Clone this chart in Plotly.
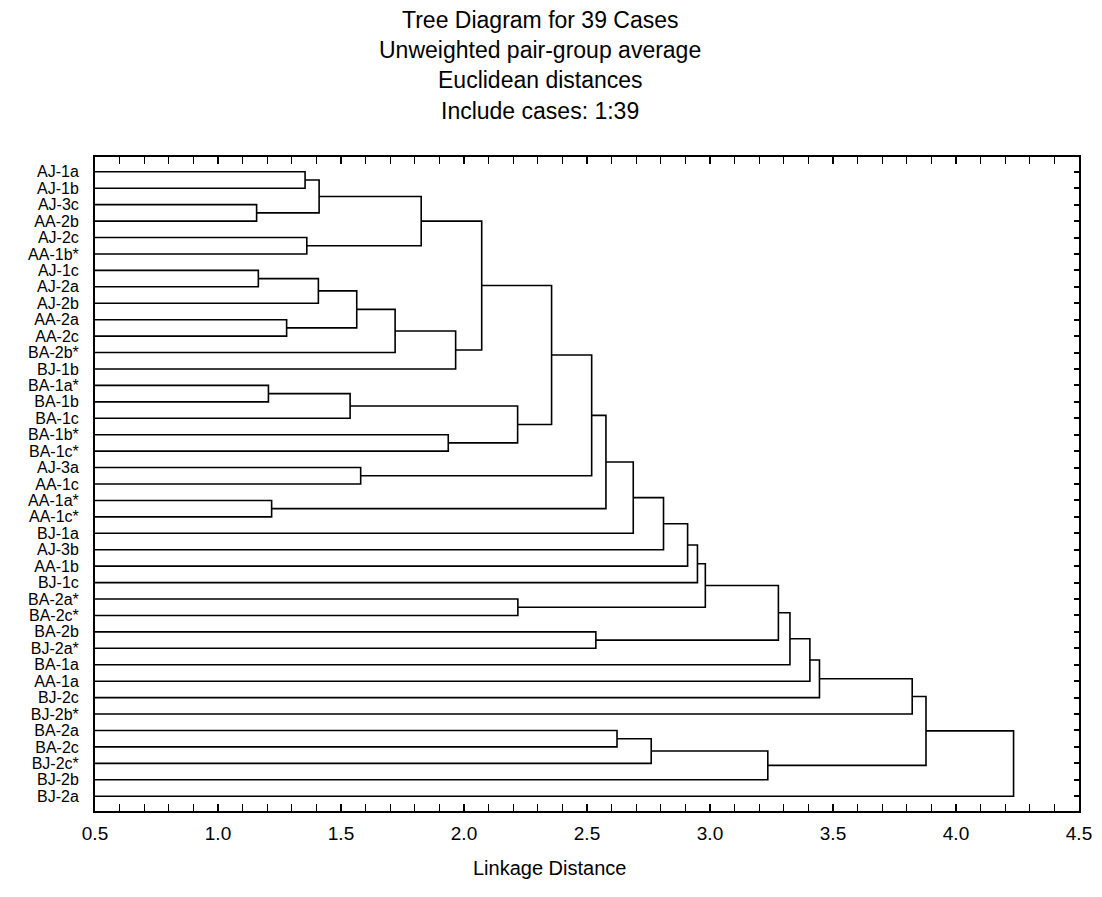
import plotly.graph_objects as go

# ---------------- DATA ----------------
leaf_labels = ["AJ-1a", "AJ-1b", "AJ-3c", "AA-2b", "AJ-2c", "AA-1b*", "AJ-1c", "AJ-2a",
               "AJ-2b", "AA-2a", "AA-2c", "BA-2b*", "BJ-1b", "BA-1a*", "BA-1b", "BA-1c",
               "BA-1b*", "BA-1c*", "AJ-3a", "AA-1c", "AA-1a*", "AA-1c*", "BJ-1a", "AJ-3b",
               "AA-1b", "BJ-1c", "BA-2a*", "BA-2c*", "BA-2b", "BJ-2a*", "BA-1a", "AA-1a",
               "BJ-2c", "BJ-2b*", "BA-2a", "BA-2c", "BJ-2c*", "BJ-2b", "BJ-2a"]

# merges: cluster ids >= 39 refer to earlier merges (39 + merge index)
merge_a = [0, 2, 39, 4, 41, 6, 44, 9, 45, 47, 48, 43, 13, 51, 16, 52, 50, 18, 55, 20,
           57, 59, 60, 61, 62, 26, 63, 28, 65, 67, 68, 69, 70, 34, 72, 73, 71, 75]
merge_b = [1, 3, 40, 5, 42, 7, 8, 10, 46, 11, 12, 49, 14, 15, 17, 53, 54, 19, 56, 21,
           58, 22, 23, 24, 25, 27, 64, 29, 66, 30, 31, 32, 33, 35, 36, 37, 74, 38]
merge_height = [1.354, 1.157, 1.411, 1.361, 1.826, 1.164, 1.408, 1.279, 1.564, 1.720,
                1.966, 2.072, 1.205, 1.537, 1.936, 2.218, 2.356, 1.580, 2.519, 1.218,
                2.577, 2.688, 2.811, 2.909, 2.949, 2.219, 2.981, 2.536, 3.278, 3.325,
                3.406, 3.445, 3.822, 2.622, 2.761, 3.235, 3.878, 4.234]

x_range = [0.5, 4.5]
title_lines = ["Tree Diagram for 39 Cases", "Unweighted pair-group average",
               "Euclidean distances", "Include cases: 1:39"]
x_title = "Linkage Distance"

# ---------------- BUILD TREE ----------------
n = len(leaf_labels)
node_x = [x_range[0]] * n
node_y = list(range(n))
xs, ys = [], []
for a, b, h in zip(merge_a, merge_b, merge_height):
    xa, ya, xb, yb = node_x[a], node_y[a], node_x[b], node_y[b]
    xs += [xa, h, h, xb, None]
    ys += [ya, ya, yb, yb, None]
    node_x.append(h)
    node_y.append((ya + yb) / 2)

FONT = "Liberation Sans, Arial, sans-serif"

fig = go.Figure()
fig.add_trace(go.Scatter(x=xs, y=ys, mode="lines",
                         line=dict(color="black", width=1.6),
                         hoverinfo="skip", showlegend=False))
# dummy trace to activate right-side tick axis
fig.add_trace(go.Scatter(x=[None], y=[None], yaxis="y2", showlegend=False, hoverinfo="skip"))

L, R, T, B = 95, 1102 - 1079, 157, 897 - 811
W, H = 1102, 897
yrng = [n - 1 + 0.9, -0.9]
fig.update_layout(
    width=W, height=H,
    margin=dict(l=L, r=R, t=T, b=B, autoexpand=False),
    paper_bgcolor="white", plot_bgcolor="white",
    font=dict(family=FONT, color="black"),
    xaxis=dict(range=x_range, dtick=0.5, tick0=0.5, tickformat=".1f",
               ticks="inside", ticklen=7, tickwidth=1.5, tickcolor="black",
               minor=dict(dtick=0.1, ticks="inside", ticklen=4, tickwidth=1, tickcolor="black"),
               showline=True, linecolor="black", linewidth=2, mirror="allticks",
               showgrid=False, zeroline=False, automargin=False,
               tickfont=dict(size=19, family=FONT), ticklabelstandoff=4),
    yaxis=dict(range=yrng, tickvals=list(range(n)), ticktext=leaf_labels,
               ticks="", showline=True, linecolor="black", linewidth=2, mirror=True,
               showgrid=False, zeroline=False, automargin=False,
               tickfont=dict(size=16, family=FONT), ticklabelstandoff=11),
    yaxis2=dict(range=yrng, overlaying="y", side="right", tickvals=list(range(n)),
                showticklabels=False, ticks="inside", ticklen=5, tickwidth=1.5,
                tickcolor="black", showgrid=False, zeroline=False, showline=False,
                automargin=False),
)

plot_top, plot_bot = T, H - B
pw = W - L - R
title_px = [20, 50, 80, 111]
for txt, py in zip(title_lines, title_px):
    fig.add_annotation(text=txt, xref="paper", yref="paper",
                       x=(540 - L) / pw, y=(plot_bot - py) / (plot_bot - plot_top),
                       xanchor="center", yanchor="middle", showarrow=False,
                       font=dict(size=23, family=FONT, color="black"))
fig.add_annotation(text=x_title, xref="paper", yref="paper",
                   x=(549 - L) / pw, y=(plot_bot - 868) / (plot_bot - plot_top),
                   xanchor="center", yanchor="middle", showarrow=False,
                   font=dict(size=20, family=FONT, color="black"))

fig.write_html("out.html", config={"displayModeBar": False},
               post_script="document.body.style.margin='0';document.body.style.padding='0';")
